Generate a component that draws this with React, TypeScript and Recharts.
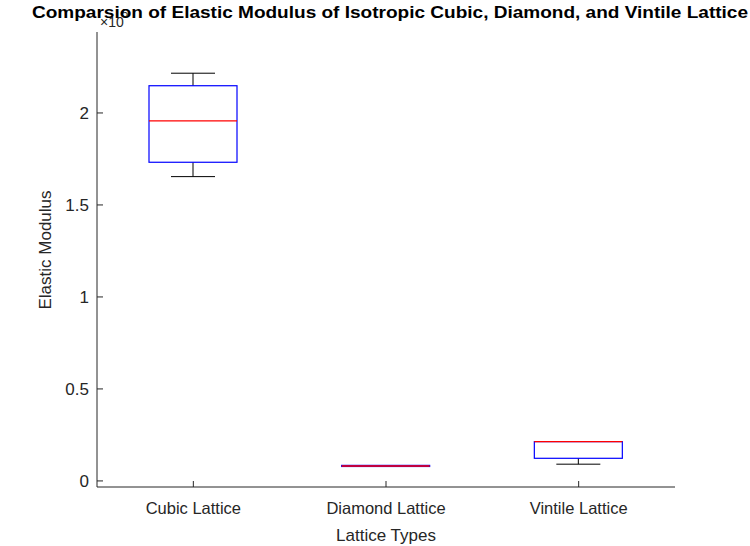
import { ComposedChart, Bar, XAxis, YAxis } from "recharts"

// box plot stats, values in units of 10^5
const categories = ["Cubic Lattice", "Diamond Lattice", "Vintile Lattice"]
const minValues = [1.654, 0.0785, 0.091]
const q1Values = [1.732, 0.0785, 0.123]
const medianValues = [1.957, 0.0815, 0.2136]
const q3Values = [2.148, 0.0845, 0.2136]
const maxValues = [2.216, 0.0845, 0.2136]
const yTicks = [0, 0.5, 1, 1.5, 2]
const yDomain = [-0.033, 2.44]

const data = categories.map((name, i) => ({
  name,
  min: minValues[i],
  q1: q1Values[i],
  median: medianValues[i],
  q3: q3Values[i],
  max: maxValues[i],
}))

const FONT = "'Liberation Sans', Arial, Helvetica, sans-serif"
const AXIS = "#262626"

function BoxShape(props: any) {
  const { x, y, width, height, payload } = props
  const top = Math.min(y, y + height)
  const h = Math.abs(height)
  const span = payload.max - payload.min || 1
  const toPx = (v: number) => top + ((payload.max - v) / span) * h
  const cx = x + width / 2
  const cap = width / 4
  const yMax = toPx(payload.max)
  const yMin = toPx(payload.min)
  const yQ3 = toPx(payload.q3)
  const yQ1 = toPx(payload.q1)
  const yMed = toPx(payload.median)
  return (
    <g>
      {yMax < yQ3 && (
        <>
          <line x1={cx} x2={cx} y1={yMax} y2={yQ3} stroke="#000" strokeWidth={1} />
          <line x1={cx - cap} x2={cx + cap} y1={yMax} y2={yMax} stroke="#000" strokeWidth={1} />
        </>
      )}
      {yMin > yQ1 && (
        <>
          <line x1={cx} x2={cx} y1={yQ1} y2={yMin} stroke="#000" strokeWidth={1} />
          <line x1={cx - cap} x2={cx + cap} y1={yMin} y2={yMin} stroke="#000" strokeWidth={1} />
        </>
      )}
      <rect x={x} y={yQ3} width={width} height={Math.max(yQ1 - yQ3, 0.5)} fill="none" stroke="#0000ff" strokeWidth={1.2} />
      <line x1={x} x2={x + width} y1={yMed} y2={yMed} stroke="#ff0000" strokeWidth={1.4} />
    </g>
  )
}

const emptyTick = () => <g />

export default function App() {
  return (
    <div style={{ position: "absolute", left: 0, top: 0, width: 750, height: 546, background: "#fff" }}>
      <ComposedChart
        width={750}
        height={546}
        data={data}
        margin={{ top: 32, right: 75, bottom: 0, left: 0 }}
      >
        <XAxis
          dataKey="name"
          height={59}
          stroke={AXIS}
          tickSize={-6}
          tickMargin={21}
          tick={{ fill: AXIS, fontSize: 16.5, fontFamily: FONT }}
          label={{
            value: "Lattice Types",
            position: "insideBottom",
            offset: 5,
            fill: AXIS,
            fontSize: 17,
            fontFamily: FONT,
          }}
        />
        <XAxis
          xAxisId="top"
          dataKey="name"
          orientation="top"
          height={0}
          stroke={AXIS}
          tickSize={-6}
          tick={emptyTick}
        />
        <YAxis
          type="number"
          domain={yDomain}
          ticks={yTicks}
          allowDataOverflow
          width={97}
          stroke={AXIS}
          tickSize={-6}
          tickMargin={14}
          tick={{ fill: AXIS, fontSize: 17, fontFamily: FONT }}
          label={() => (
            <text
              x={45}
              y={250}
              transform="rotate(-90 45 250)"
              textAnchor="middle"
              dominantBaseline="central"
              fill={AXIS}
              fontSize={17}
              fontFamily={FONT}
            >
              Elastic Modulus
            </text>
          )}
        />
        <YAxis
          yAxisId="right"
          orientation="right"
          type="number"
          domain={yDomain}
          ticks={yTicks}
          allowDataOverflow
          width={0}
          stroke={AXIS}
          tickSize={-6}
          tick={emptyTick}
        />
        <Bar
          dataKey={(d: any) => [d.min, d.max]}
          barSize={88}
          shape={BoxShape}
          isAnimationActive={false}
        />
      </ComposedChart>
      <svg
        width={750}
        height={546}
        style={{ position: "absolute", left: 0, top: 0, pointerEvents: "none" }}
      >
        <text x={100} y={27} fontSize={14} fill={AXIS} fontFamily={FONT}>
          ×10
        </text>
        <text x={122} y={17} fontSize={11} fill={AXIS} fontFamily={FONT}>
          5
        </text>
        <text
          x={390}
          y={18}
          textAnchor="middle"
          fontSize={16}
          fontWeight="bold"
          fill="#000"
          fontFamily={FONT}
          textLength={716}
          lengthAdjust="spacingAndGlyphs"
        >
          Comparsion of Elastic Modulus of Isotropic Cubic, Diamond, and Vintile Lattice
        </text>
      </svg>
    </div>
  )
}
